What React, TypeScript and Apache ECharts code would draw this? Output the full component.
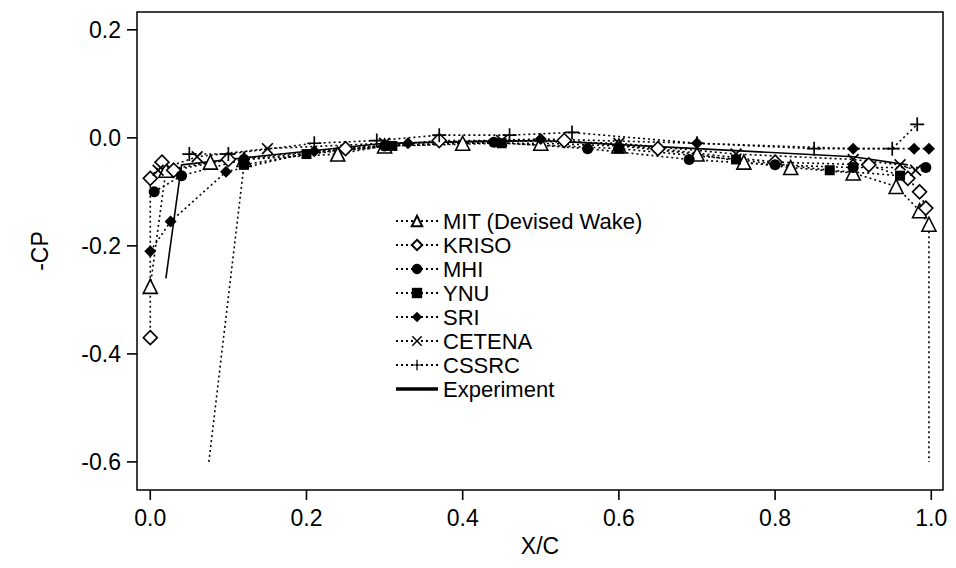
import React, { useEffect, useRef } from "react";
import * as echarts from "echarts";

const seriesNames = ["MIT (Devised Wake)", "KRISO", "MHI", "YNU", "SRI", "CETENA", "CSSRC", "Experiment"];
const mit = [[0.0,-0.275],[0.02,-0.06],[0.077,-0.045],[0.12,-0.04],[0.24,-0.03],[0.3,-0.015],[0.4,-0.01],[0.5,-0.01],[0.6,-0.015],[0.7,-0.03],[0.76,-0.045],[0.82,-0.055],[0.9,-0.065],[0.955,-0.09],[0.985,-0.135],[0.997,-0.16],[0.997,-0.6]];
const kriso = [[0.0,-0.37],[0.0,-0.075],[0.015,-0.045],[0.03,-0.06],[0.1,-0.04],[0.25,-0.02],[0.37,-0.005],[0.53,-0.005],[0.65,-0.02],[0.8,-0.045],[0.92,-0.05],[0.97,-0.075],[0.985,-0.1],[0.993,-0.13]];
const mhi = [[0.005,-0.1],[0.04,-0.07],[0.12,-0.04],[0.3,-0.015],[0.44,-0.008],[0.56,-0.02],[0.69,-0.04],[0.8,-0.05],[0.9,-0.055],[0.993,-0.055]];
const ynu = [[0.075,-0.6],[0.12,-0.05],[0.2,-0.03],[0.31,-0.015],[0.45,-0.01],[0.6,-0.02],[0.75,-0.04],[0.87,-0.06],[0.96,-0.07]];
const sri = [[0.0,-0.21],[0.026,-0.155],[0.097,-0.063],[0.21,-0.025],[0.33,-0.01],[0.5,-0.002],[0.7,-0.01],[0.9,-0.02],[0.978,-0.02],[0.997,-0.02]];
const cetena = [[0.01,-0.06],[0.06,-0.035],[0.15,-0.02],[0.3,-0.01],[0.45,-0.005],[0.6,-0.01],[0.75,-0.03],[0.9,-0.04],[0.96,-0.05],[0.98,-0.06]];
const cssrc = [[0.05,-0.03],[0.1,-0.03],[0.21,-0.01],[0.29,-0.005],[0.37,0.005],[0.46,0.005],[0.54,0.01],[0.7,-0.01],[0.85,-0.02],[0.95,-0.02],[0.982,0.025]];
const experiment = [[0.02,-0.26],[0.04,-0.05],[0.1,-0.04],[0.3,-0.01],[0.5,-0.005],[0.7,-0.02],[0.9,-0.035],[0.97,-0.05]];
const xTicks = [0, 0.2, 0.4, 0.6, 0.8, 1.0];
const yTicks = [-0.6, -0.4, -0.2, 0, 0.2];
const X_MIN = -0.017, X_MAX = 1.015, Y_MIN = -0.652, Y_MAX = 0.233;
const bareEnds = [[16], [], [], [0], [], [], [], []];

const X_PATH = "path://M0,1L1,0L5,4L9,0L10,1L6,5L10,9L9,10L5,6L1,10L0,9L4,5Z";
const PLUS_PATH = "path://M4.4,0H5.6V4.4H10V5.6H5.6V10H4.4V5.6H0V4.4H4.4Z";

export default function App() {
  const ref = useRef<HTMLDivElement>(null);
  useEffect(() => {
    const chart = echarts.init(ref.current!, null, { renderer: "svg" });
    const dataArr = [mit, kriso, mhi, ynu, sri, cetena, cssrc, experiment];
    const syms = [["triangle", 14, false], ["diamond", 14, false], ["circle", 11, true], ["rect", 10, true], ["diamond", 12, true], [X_PATH, 12, true], [PLUS_PATH, 14, true], ["none", 1, true]] as any[];
    const series: any[] = seriesNames.map((n, i) => ({
      name: n, type: "line",
      data: dataArr[i].map((p, j) => (bareEnds[i].includes(j) ? { value: p, symbol: "none" } : p)),
      symbol: syms[i][0], symbolSize: syms[i][1], showAllSymbol: true,
      lineStyle: i === 7 ? { color: "#000", width: 1.6, type: "solid" } : { color: "#000", width: 1.6, type: [2, 3] },
      itemStyle: { color: syms[i][2] ? "#000" : "#fff", borderColor: "#000", borderWidth: syms[i][2] ? 0 : 1.6 },
    }));
    // tick marks: [x, y, orientation] 0 = y-axis tick, 1 = x-axis tick
    const tickData = [...yTicks.map((v) => [X_MIN, v, 0]), ...xTicks.map((v) => [v, Y_MIN, 1])];
    series.push({
      name: "ticks", type: "custom", clip: false, silent: true, z: 10,
      data: tickData,
      encode: { x: 0, y: 1 },
      renderItem: (_p: any, api: any) => {
        const pt = api.coord([api.value(0), api.value(1)]);
        const horiz = api.value(2) === 0;
        return {
          type: "line",
          shape: horiz ? { x1: pt[0] - 10, y1: pt[1], x2: pt[0], y2: pt[1] } : { x1: pt[0], y1: pt[1], x2: pt[0], y2: pt[1] + 10 },
          style: { stroke: "#000", lineWidth: 1.6 },
        };
      },
    });
    const mkAxis = (ticks: number[]) => ({
      axisLine: { show: false, onZero: false },
      axisTick: { show: false },
      axisLabel: { show: true, fontSize: 23, color: "#000", margin: 16, customValues: ticks, formatter: (v: number) => v.toFixed(1) },
      splitLine: { show: false },
      nameTextStyle: { fontSize: 23, color: "#000" },
    });
    chart.setOption({
      animation: false,
      textStyle: { fontFamily: "Liberation Sans, Arial, sans-serif" },
      grid: { left: 137, right: 13, top: 12, bottom: 78, show: true, backgroundColor: "transparent", borderColor: "#000", borderWidth: 1.5 },
      legend: {
        data: seriesNames.map((n, i) => ({ name: n, icon: i === 7 ? "path://M0,4.6H10V5.4H0Z" : undefined })),
        orient: "vertical", left: 390, top: 205, itemGap: 2, itemWidth: 42, itemHeight: 13,
        textStyle: { fontSize: 22, lineHeight: 19, color: "#000", fontFamily: "Liberation Sans, Arial, sans-serif" },
      },
      xAxis: {
        type: "value", min: X_MIN, max: X_MAX, ...mkAxis(xTicks),
        name: "X/C", nameLocation: "middle", nameGap: 44,
      },
      yAxis: {
        type: "value", min: Y_MIN, max: Y_MAX, ...mkAxis(yTicks),
        name: "-CP", nameLocation: "middle", nameGap: 86, nameRotate: 90,
      },
      series,
    });
    return () => chart.dispose();
  }, []);
  return <div ref={ref} style={{ position: "fixed", left: 0, top: 0, width: 956, height: 568, background: "#fff" }} />;
}
